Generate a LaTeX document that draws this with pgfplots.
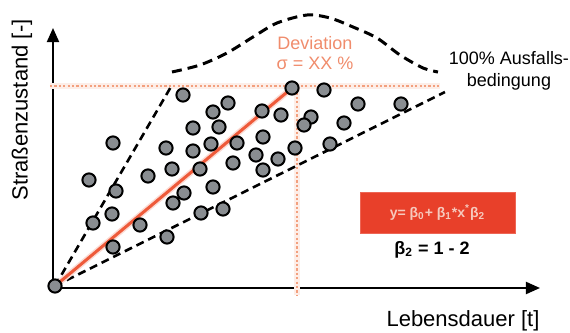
\documentclass[border=0pt]{standalone}
\usepackage{pgfplots}
\pgfplotsset{compat=1.18}
\usepackage{fontspec}
\setmainfont{Liberation Sans}
\usetikzlibrary{arrows.meta}
\definecolor{ptgray}{HTML}{898D91}
\definecolor{redline}{HTML}{EE5A3A}
\definecolor{salmon}{HTML}{F3A07E}
\definecolor{boxred}{HTML}{E8402A}
\definecolor{devtext}{HTML}{F08C6C}
\definecolor{boxtext}{HTML}{F6C9BD}

\begin{document}
\begin{tikzpicture}
\begin{axis}[
  scale only axis, width=243.5pt, height=130pt,
  xmin=0, xmax=487, ymin=0, ymax=260,
  axis lines=left,
  axis line style={line width=1pt, -{Triangle[length=7pt,width=6pt]}},
  ticks=none, clip=false,
]
% dotted deviation guides
\addplot[salmon!18, line width=2.6pt] coordinates {(-3,202) (387,202)};
\addplot[salmon!18, line width=2.6pt] coordinates {(244,200) (244,-7)};
\addplot[salmon, line width=1.1pt, dash pattern=on 1.1pt off 1.1pt] coordinates {(-3,202) (387,202)};
\addplot[salmon, line width=1.1pt, dash pattern=on 1.1pt off 1.1pt] coordinates {(244,200) (244,-7)};

% scatter points
\addplot[only marks, mark=*, mark size=3.3pt,
  mark options={fill=ptgray, draw=black, line width=1pt}] coordinates {
(130,193) (175,185) (160,176) (166,161) (140,160) (60,145) (113,140)
(140,137) (158,144) (184,145) (180,125) (119,119) (147,119) (95,112)
(36,108) (63,97) (160,101) (239,200) (271,198) (305,184) (348,184)
(209,177) (228,173) (258,171) (251,163) (291,165) (210,151) (277,144)
(242,140) (203,133) (225,129) (210,118) (131,95) (120,85) (59,74)
(40,65) (87,63) (148,75) (170,79) (114,51) (60,41)
};

% envelope lines
\addplot[black, line width=1.3pt, dash pattern=on 4pt off 2.5pt] coordinates {(2,2) (119,203)};
\addplot[black, line width=1.3pt, dash pattern=on 4pt off 2.5pt] coordinates {(2,2) (392,196)};
% distribution curve
\addplot[black, line width=1.5pt, dash pattern=on 5pt off 3pt, smooth] coordinates {
(119,216) (147,223) (174,235) (200,251) (224,265) (254,273) (277,270)
(300,261) (324,250) (347,233) (370,220) (385,216)
};
% regression line
\addplot[redline!22, line width=3pt] coordinates {(2,2) (239,200)};
\addplot[redline, line width=1.5pt] coordinates {(2,2) (239,200)};
% origin point
\addplot[only marks, mark=*, mark size=3.3pt,
  mark options={fill=ptgray, draw=black, line width=1pt}] coordinates {(2,2)};

% texts
\node[rotate=90, font=\fontsize{11}{13}\selectfont] at (axis cs:-31,178) {Straßenzustand [-]};
\node[font=\fontsize{11}{13}\selectfont] at (axis cs:410,-33) {Lebensdauer [t]};
\node[align=center, font=\fontsize{9}{11}\selectfont] at (axis cs:456,217) {100\% Ausfalls-\\bedingung};
\node[text=devtext, align=center, font=\fontsize{9}{10}\selectfont] at (axis cs:262,235) {Deviation\\σ = XX \%};
\node[fill=boxred, draw=boxred!80!white, minimum width=77.5pt, minimum height=20.5pt,
  text=boxtext, font=\fontsize{7}{8}\selectfont\bfseries] at (axis cs:384.5,75.5)
  {y= β\textsubscript{0}+ β\textsubscript{1}*x\textsuperscript{*}β\textsubscript{2}};
\node[font=\fontsize{9}{11}\selectfont\bfseries] at (axis cs:379,38) {β\textsubscript{2} = 1 - 2};

\coordinate (bl) at (axis cs:-53,-45);
\coordinate (tr) at (axis cs:517,288);
\end{axis}
\pgfresetboundingbox
\path[use as bounding box] (bl) rectangle (tr);
\end{tikzpicture}
\end{document}
